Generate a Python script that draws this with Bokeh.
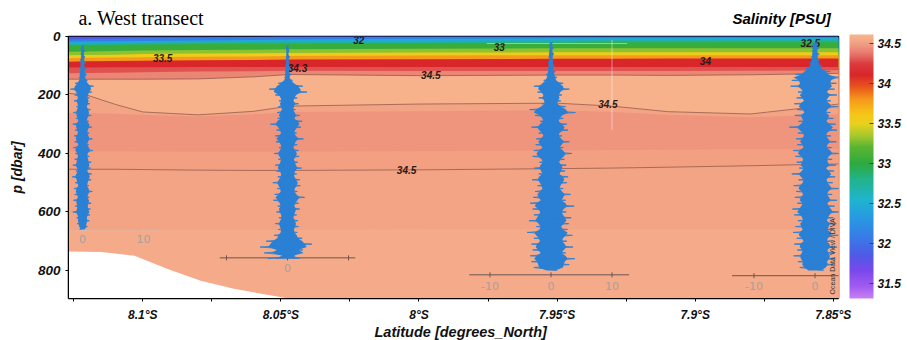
import numpy as np
from bokeh.plotting import figure
from bokeh.layouts import column
from bokeh.models import (Range1d, FixedTicker, CustomJSTickFormatter,
                          ColorBar, LinearColorMapper)
from bokeh.core.properties import value
from bokeh.embed import file_html
from bokeh.resources import INLINE

# ---------------- data ----------------
title_text = "a. West transect"
colorbar_title = "Salinity [PSU]"
x_label = "Latitude [degrees_North]"
y_label = "p [dbar]"
x_tick_lats = [-8.1, -8.05, -8.0, -7.95, -7.9, -7.85]
x_minor_lats = [-8.125, -8.075, -8.025, -7.975, -7.925, -7.875]
y_tick_depths = [0, 200, 400, 600, 800]
salinity_ticks = [31.5, 32.0, 32.5, 33.0, 33.5, 34.0, 34.5]
salinity_low = 31.31
salinity_high = 34.61
lat_min, lat_max = -8.1269, -7.8481
depth_max = 896

# latitudes at which isohaline depths were read
section_lat = [-8.127, -8.12, -8.11, -8.10, -8.08, -8.06, -8.047, -8.0,
               -7.95, -7.93, -7.91, -7.88, -7.86, -7.848]
surface = [0] * 14
iso_319 = [10, 9, 8, 6, 4, 2, 0, 0, 0, 0, 0, 0, 0, 0]
iso_322 = [18, 17, 16, 15, 14, 12, 10, 8, 6, 5, 5, 4, 4, 4]
iso_326 = [24, 23, 22, 21, 20, 18, 17, 15, 14, 13, 13, 12, 12, 12]
iso_329 = [30, 29, 28, 27, 26, 25, 24, 22, 21, 20, 20, 20, 20, 20]
iso_332 = [52, 51, 50, 48, 46, 45, 44, 42, 40, 40, 40, 40, 40, 40]
iso_334 = [64, 63, 62, 60, 58, 57, 56, 55, 54, 54, 54, 54, 54, 54]
iso_337 = [74, 73, 72, 71, 69, 68, 67, 65, 64, 64, 64, 64, 64, 64]
iso_339 = [86, 85, 84, 83, 81, 80, 79, 78, 76, 76, 75, 75, 75, 75]
iso_342 = [106, 106, 105, 105, 104, 104, 104, 104, 104, 104, 104, 104, 104, 104]
iso_344 = [126, 125, 124, 122, 120, 119, 117, 118, 118, 118, 118, 117, 116, 115]
iso_345_upper = [146, 146, 146, 146, 145, 138, 130, 134, 132, 132, 133, 131, 128, 126]
iso_345_mid = [194, 201, 232, 258, 268, 256, 238, 231, 228, 238, 257, 265, 244, 231]
core_top = [262, 262, 264, 268, 274, 266, 258, 256, 252, 258, 268, 276, 270, 266]
core_bottom = [392, 392, 392, 393, 394, 394, 393, 392, 390, 388, 387, 386, 385, 385]
iso_345_lower = [454, 454, 454, 455, 457, 458, 458, 456, 452, 450, 447, 442, 438, 436]
deep_top = [662, 662, 662, 662, 662, 662, 662, 660, 660, 660, 660, 660, 660, 660]

band_tops = [surface, iso_319, iso_322, iso_326, iso_329, iso_332, iso_334, iso_337,
             iso_339, iso_342, iso_344, iso_345_upper, iso_345_mid, core_top,
             core_bottom, iso_345_lower, deep_top]
band_salinity = [31.85, 32.1, 32.45, 32.75, 33.05, 33.3, 33.55, 33.8,
                 34.1, 34.3, 34.42, 34.6, 34.52, 34.46, 34.5, 34.52, 34.56]

# seabed
bathy_lat = [-8.1275, -8.115, -8.103, -8.091, -8.079, -8.067, -8.055, -8.0447]
bathy_depth = [735, 737, 750, 795, 835, 863, 883, 900]

# CTD stations and their wiggle traces (10 dbar steps)
station_lat = [-8.1218, -8.0476, -7.9522, -7.8566]
station_top = [30, 30, 20, 20]
wiggle_1 = [0.3, -0.3, 0.4, -0.3, 0.4, -0.4, 0.5, -0.4, 0.6, -0.5,
            0.7, -0.6, 0.8, -1.2, 1.8, -2.0, 1.5, -1.3, 1.1, -1.4,
            1.2, -1.0, 1.3, -1.5, 1.4, -1.1, 1.0, -1.6, 1.5, -1.2,
            1.1, -1.4, 1.6, -1.3, 1.0, -1.5, 1.7, -1.2, 1.1, -1.3,
            1.4, -1.6, 1.3, -1.1, 1.5, -1.7, 1.4, -1.2, 1.0, -1.4,
            1.6, -1.3, 1.1, -1.5, 1.4, -1.2, 1.3, -1.6, 1.2, -1.0,
            1.1, -0.9, 0.8, -0.5]
wiggle_2 = [0.2, -0.3, 0.3, -0.2, 0.4, -0.3, 0.3, -0.4, 0.5, -0.4,
            0.6, -0.5, 0.8, -1.5, 2.5, -3.0, 3.2, -2.0, 1.6, -1.4,
            1.8, -1.5, 1.3, -1.7, 2.0, -1.6, 2.4, -2.8, 2.2, -1.8,
            1.5, -2.0, 2.6, -1.9, 1.6, -1.4, 1.8, -2.2, 1.9, -1.5,
            1.7, -2.0, 2.3, -1.8, 1.5, -1.6, 2.0, -2.4, 2.1, -1.7,
            1.6, -2.1, 2.8, -2.3, 1.8, -1.6, 2.0, -1.8, 1.5, -1.4,
            1.7, -2.0, 1.8, -1.5, 1.6, -2.2, 2.4, -3.5, 4.0, -4.5,
            2.5, -3.8, 1.2, -3.2]
wiggle_3 = [0.3, -0.3, 0.4, -0.3, 0.5, -0.4, 0.4, -0.5, 0.6, -0.5,
            0.7, -0.8, 1.0, -1.2, 2.0, -2.8, 3.0, -2.2, 1.8, -2.0,
            1.6, -1.5, 2.4, -3.5, 4.0, -2.6, 2.0, -1.8, 2.6, -3.2,
            2.8, -2.0, 1.8, -2.4, 3.0, -2.5, 2.0, -2.8, 3.4, -3.0,
            2.2, -1.9, 2.5, -2.7, 2.3, -2.0, 2.8, -3.1, 2.6, -2.2,
            2.0, -2.6, 3.2, -2.9, 2.4, -3.4, 3.8, -3.0, 2.5, -2.8,
            3.3, -3.6, 2.9, -2.4, 2.7, -3.9, 3.5, -2.8, 2.6, -3.2,
            3.6, -3.0, 2.4, -3.4, 3.9, -3.2, 3.0, -2.8, 1.0]
wiggle_4 = [0.4, -0.5, 0.6, -0.5, 0.7, -0.6, 0.8, -0.9, 1.2, -1.5,
            2.5, -3.2, 5.0, -3.8, 3.5, -4.0, 3.2, -2.8, 3.6, -3.0,
            2.6, -3.4, 3.8, -2.9, 2.5, -3.3, 3.0, -2.7, 3.4, -4.2,
            3.6, -2.8, 2.6, -3.1, 3.5, -2.9, 2.7, -3.6, 4.0, -3.2,
            2.8, -3.0, 3.4, -2.6, 3.1, -3.8, 3.3, -2.7, 2.9, -3.5,
            3.9, -3.1, 2.8, -3.3, 3.6, -2.9, 3.2, -3.7, 4.2, -3.4,
            3.0, -2.8, 3.5, -3.2, 2.9, -3.6, 3.8, -3.0, 2.7, -3.4,
            3.6, -2.9, 3.1, -3.5, 3.3, -2.8, 3.0, -2.5, 1.5]
wiggles = [wiggle_1, wiggle_2, wiggle_3, wiggle_4]

# amplitude scale bars under each station
scale_depth = [665, 757, 815, 818]
scale_min = [-14.0, -11.1, -13.4, -13.6]
scale_max = [13.0, 11.1, 12.8, 5.0]
scale_tick_units = [[-10, 0, 10], [-10, 0, 10], [-10, 0, 10], [-10, 0]]
scale_label_depth = [692, 791, 852, 852]
scale_label_units = [[0, 10], [0], [-10, 0, 10], [-10, 0]]
scale_labels = [["0", "10"], ["0"], ["-10", "0", "10"], ["-10", "0"]]

# contour labels
contour_label_text = ["32", "33.5", "34.3", "33", "34.5", "34", "32.5", "34.5", "34.5"]
contour_label_lat = [-8.0218, -8.0928, -8.0440, -7.9709, -7.9957, -7.8963, -7.8583, -7.9316, -8.0045]
contour_label_depth = [11, 75, 109, 37, 132, 84, 23, 231, 458]

# header / footer text anchors (latitude of text edge or centre)
title_lat = -8.1233
colorbar_title_lat = -7.8509
x_label_lat = -7.9849

# ---------------- styles ----------------
UNIT_DEG = 0.00221        # one trace unit in degrees of latitude
FONT = "Liberation Sans"
W = 907
HEAD_H = 28
FOOT_H = 16
TRACE = "#2a80d4"
cmap_stops = [(31.31, "#c680f2"), (31.45, "#a45cf0"), (31.65, "#7a48ec"),
              (31.85, "#4f5ae6"), (32.05, "#3a78e8"), (32.3, "#2898e2"),
              (32.55, "#1fb5cf"), (32.8, "#22b38a"), (33.0, "#2eaa3e"),
              (33.2, "#5ab533"), (33.35, "#a8c92c"), (33.5, "#e8d21e"),
              (33.62, "#f7c417"), (33.8, "#f59a1a"), (33.95, "#ea5a1c"),
              (34.1, "#d8262a"), (34.25, "#dc3a3e"), (34.35, "#e46a62"),
              (34.45, "#ee927c"), (34.52, "#f3a485"), (34.61, "#f7b48d")]


def hex2rgb(h):
    return [int(h[i:i + 2], 16) for i in (1, 3, 5)]


def cmap(s):
    vals = [v for v, _ in cmap_stops]
    cols = np.array([hex2rgb(c) for _, c in cmap_stops], dtype=float)
    rgb = [np.interp(s, vals, cols[:, k]) for k in range(3)]
    return "#%02x%02x%02x" % tuple(int(round(c)) for c in rgb)


palette = [cmap(salinity_low + (salinity_high - salinity_low) * i / 255) for i in range(256)]


def strip(height):
    f = figure(width=W, height=height, output_backend="svg", toolbar_location=None,
               x_range=Range1d(lat_min, lat_max), y_range=Range1d(0, 1),
               x_axis_location=None, y_axis_location=None, min_border=0, title=None)
    f.outline_line_color = None
    f.grid.visible = False
    return f


# ---------------- header (titles) ----------------
head = strip(HEAD_H)
head.text(x=[title_lat], y=[0.38], text=[title_text], text_font=value("Liberation Serif"),
          text_font_size="20px", text_color="black", text_align="left",
          text_baseline="middle")
head.text(x=[colorbar_title_lat], y=[0.36], text=[colorbar_title], text_font=value(FONT),
          text_font_style="bold italic", text_font_size="15px", text_color="black",
          text_align="right", text_baseline="middle")

# ---------------- footer (x axis title) ----------------
foot = strip(FOOT_H)
foot.text(x=[x_label_lat], y=[0.55], text=[x_label], text_font=value(FONT),
          text_font_style="bold italic", text_font_size="14.5px", text_color="#111111",
          text_align="center", text_baseline="middle")

# ---------------- main section ----------------
p = figure(width=W, height=340 - HEAD_H - FOOT_H, output_backend="svg",
           toolbar_location=None,
           x_range=Range1d(lat_min, lat_max), y_range=Range1d(depth_max, 0),
           min_border_left=68, min_border_right=69, min_border_top=36 - HEAD_H,
           min_border_bottom=40 - FOOT_H, title=None)
p.background_fill_color = "white"
p.border_fill_color = "white"
p.outline_line_color = "black"
p.outline_line_width = 1.5
p.grid.visible = False

# salinity bands (each drawn from its top down to the bottom, painter's order)
bottom_line = [depth_max] * len(section_lat)
for top, s in zip(band_tops, band_salinity):
    p.varea(x=section_lat, y1=top, y2=bottom_line, fill_color=cmap(s))

# contour lines (34.5)
for iso in (iso_345_upper, iso_345_mid, iso_345_lower):
    p.line(section_lat, iso, line_color="#8a5548", line_width=0.9, line_alpha=0.8)

# seabed
p.varea(x=bathy_lat, y1=bathy_depth, y2=[depth_max + 10] * len(bathy_lat),
        fill_color="white")

# faint white guide lines of station 3 scale
p.segment(x0=[station_lat[2] + 10 * UNIT_DEG, station_lat[2] - 10.5 * UNIT_DEG],
          y0=[12, 24],
          x1=[station_lat[2] + 10 * UNIT_DEG, station_lat[2] + 12.5 * UNIT_DEG],
          y1=[320, 24], line_color="white", line_alpha=0.45, line_width=1)

# contour labels
p.text(x=contour_label_lat, y=contour_label_depth, text=contour_label_text,
       text_font=value(FONT), text_font_style="bold italic", text_font_size="10px",
       text_color="#2a1a18", text_align="center", text_baseline="middle")

# scale bars
for i, lat0 in enumerate(station_lat):
    col = "#d9b8a8" if i == 0 else "#6b5550"
    p.line([lat0 + scale_min[i] * UNIT_DEG, lat0 + scale_max[i] * UNIT_DEG],
           [scale_depth[i], scale_depth[i]], line_color=col, line_width=1)
    p.scatter(x=[lat0 + u * UNIT_DEG for u in scale_tick_units[i]],
              y=[scale_depth[i]] * len(scale_tick_units[i]),
              marker="dash", angle=np.pi / 2, size=5, line_color=col)
    p.text(x=[lat0 + u * UNIT_DEG for u in scale_label_units[i]],
           y=[scale_label_depth[i]] * len(scale_label_units[i]),
           text=scale_labels[i], text_font=value("DejaVu Sans"),
           text_font_size="11px", text_color="#a8a09c",
           text_align="center", text_baseline="middle")

# wiggle traces: solid core plus the zig-zag spikes
for lat0, top, w in zip(station_lat, station_top, wiggles):
    depths = [top + 10 * k for k in range(len(w))]
    p.harea(y=depths, x1=[lat0 - 0.7 * abs(v) * UNIT_DEG for v in w],
            x2=[lat0 + 0.7 * abs(v) * UNIT_DEG for v in w],
            fill_color=TRACE, fill_alpha=1.0)
    p.line([lat0 + v * UNIT_DEG for v in w], depths, line_color=TRACE,
           line_width=0.9)

# ODV credit
p.text(x=[-7.8503], y=[752], text=["Ocean Data View / DIVA"], angle=np.pi / 2,
       text_font=value(FONT), text_font_size="7px", text_color="#333333",
       text_align="center", text_baseline="middle")

# axes
p.xaxis.ticker = FixedTicker(ticks=x_tick_lats, minor_ticks=x_minor_lats)
p.xaxis.formatter = CustomJSTickFormatter(
    code="return parseFloat(Math.abs(tick).toFixed(2)) + '\u00b0S';")
p.yaxis.ticker = FixedTicker(ticks=y_tick_depths, minor_ticks=[])
for ax in (p.xaxis[0], p.yaxis[0]):
    ax.axis_line_color = "black"
    ax.major_tick_line_color = "black"
    ax.minor_tick_line_color = "black"
    ax.major_tick_in = 0
    ax.major_tick_out = 3
    ax.minor_tick_in = 0
    ax.minor_tick_out = 3
    ax.major_label_text_font = FONT
    ax.major_label_text_font_style = "bold italic"
    ax.major_label_text_color = "#111111"
    ax.axis_label_text_font = FONT
    ax.axis_label_text_font_style = "bold italic"
    ax.axis_label_text_color = "#111111"
p.xaxis.major_label_text_font_size = "12px"
p.xaxis.major_label_standoff = 6
p.yaxis.major_label_text_font_size = "13.5px"
p.yaxis.major_label_standoff = 5
p.yaxis.axis_label = y_label
p.yaxis.axis_label_text_font_size = "14px"
p.yaxis.axis_label_standoff = 10

# colour bar
mapper = LinearColorMapper(palette=palette, low=salinity_low, high=salinity_high)
cb = ColorBar(color_mapper=mapper, ticker=FixedTicker(ticks=salinity_ticks),
              formatter=CustomJSTickFormatter(code="return String(Math.round(tick*10)/10);"),
              width=24, height=264, location=(11, 0), padding=0, margin=0,
              label_standoff=4,
              major_label_text_font=FONT, major_label_text_font_style="bold italic",
              major_label_text_font_size="12px", major_label_text_color="#111111",
              major_tick_line_color="#444444", major_tick_in=4, major_tick_out=0,
              bar_line_color=None, border_line_color=None, background_fill_alpha=0)
p.add_layout(cb, "right")

layout = column(head, p, foot, spacing=0)
open("out.html", "w").write(file_html(layout, INLINE))
